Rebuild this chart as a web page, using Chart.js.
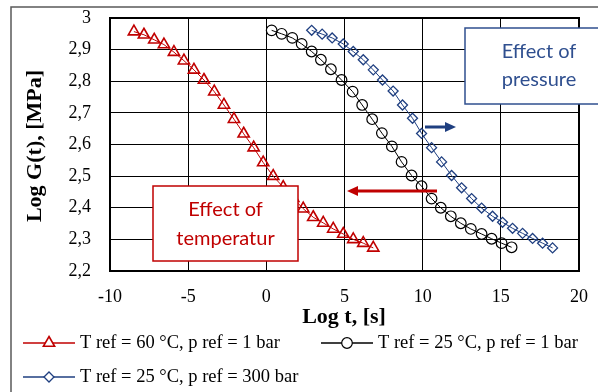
<!DOCTYPE html>
<html>
<head>
<meta charset="utf-8">
<script src="https://cdn.jsdelivr.net/npm/chart.js@4/dist/chart.umd.min.js"></script>
<style>
  html, body { margin: 0; padding: 0; background: #fff; }
  #wrap { width: 598px; height: 392px; position: relative; }
</style>
</head>
<body>
<div id="wrap"><canvas id="chart" width="598" height="392"></canvas></div>
<script>
// values
const xTicks = [-10, -5, 0, 5, 10, 15, 20];
const yTicks = [2.2, 2.3, 2.4, 2.5, 2.6, 2.7, 2.8, 2.9, 3];

const seriesNames = [
    "T ref = 60 °C, p ref = 1 bar",
    "T ref = 25 °C, p ref = 1 bar",
    "T ref = 25 °C, p ref = 300 bar"
];

const t60x = [-8.47, -7.83, -7.17, -6.55, -5.91, -5.27, -4.63, -3.99, -3.33, -2.71, -2.07, -1.45, -0.81,
    -0.20, 0.44, 1.08, 1.72, 2.36, 3.00, 3.64, 4.28, 4.92, 5.56, 6.20, 6.84];
const t60y = [2.957, 2.947, 2.931, 2.916, 2.892, 2.865, 2.836, 2.804, 2.767, 2.725, 2.680, 2.634, 2.590,
    2.543, 2.500, 2.465, 2.430, 2.397, 2.370, 2.352, 2.333, 2.317, 2.300, 2.288, 2.273];

const t25x = [0.34, 0.98, 1.66, 2.26, 2.90, 3.49, 4.13, 4.81, 5.52, 6.13, 6.77, 7.39, 8.03,
    8.65, 9.29, 9.93, 10.57, 11.16, 11.80, 12.44, 13.08, 13.77, 14.41, 15.05, 15.69];
const t25y = [2.961, 2.950, 2.937, 2.918, 2.894, 2.868, 2.838, 2.804, 2.767, 2.725, 2.680, 2.636, 2.594,
    2.545, 2.502, 2.468, 2.429, 2.400, 2.373, 2.351, 2.333, 2.317, 2.302, 2.288, 2.275];

const p300x = [2.90, 3.57, 4.21, 4.92, 5.56, 6.20, 6.84, 7.43, 8.11, 8.71, 9.35, 9.93, 10.57,
    11.21, 11.85, 12.49, 13.13, 13.77, 14.47, 15.11, 15.75, 16.39, 17.03, 17.67, 18.31];
const p300y = [2.961, 2.949, 2.937, 2.918, 2.894, 2.868, 2.836, 2.804, 2.769, 2.725, 2.683, 2.635, 2.590,
    2.545, 2.502, 2.463, 2.429, 2.399, 2.373, 2.354, 2.335, 2.319, 2.303, 2.288, 2.273];

const RED = '#C00000', BLACK = '#000000', BLUE = '#1F3F80';
const SERIF = '"Liberation Serif", "Times New Roman", serif';
const SANS = 'Lato, "Liberation Sans", sans-serif';

const toPoints = (xs, ys) => xs.map((x, i) => ({ x: x, y: ys[i] }));

const styles = [
    { color: RED, pointStyle: 'triangle', radius: 6.5, bw: 1.6 },
    { color: BLACK, pointStyle: 'circle', radius: 5.3, bw: 1.2 },
    { color: BLUE, pointStyle: 'rectRot', radius: 5, bw: 1.3 }
];

const datasets = [toPoints(t60x, t60y), toPoints(t25x, t25y), toPoints(p300x, p300y)].map((pts, i) => ({
    label: seriesNames[i],
    data: pts,
    showLine: true,
    borderColor: styles[i].color,
    borderWidth: 1,
    backgroundColor: 'transparent',
    pointStyle: styles[i].pointStyle,
    pointRadius: styles[i].radius,
    pointBorderWidth: styles[i].bw,
    pointBorderColor: styles[i].color,
    pointBackgroundColor: 'transparent'
}));

function drawArrow(ctx, x1, x2, y, color) {
    const dir = x2 > x1 ? 1 : -1;
    const head = 11;
    ctx.save();
    ctx.strokeStyle = color;
    ctx.fillStyle = color;
    ctx.lineWidth = 3;
    ctx.beginPath();
    ctx.moveTo(x1, y);
    ctx.lineTo(x2 - dir * head, y);
    ctx.stroke();
    ctx.beginPath();
    ctx.moveTo(x2, y);
    ctx.lineTo(x2 - dir * head, y - 5);
    ctx.lineTo(x2 - dir * head, y + 5);
    ctx.closePath();
    ctx.fill();
    ctx.restore();
}

function drawBox(ctx, x, y, w, h, border, lines, cx, ys) {
    ctx.save();
    ctx.fillStyle = '#fff';
    ctx.fillRect(x, y, w, h);
    ctx.strokeStyle = border;
    ctx.lineWidth = 1.5;
    ctx.strokeRect(x, y, w, h);
    ctx.fillStyle = border;
    ctx.font = '20px ' + SANS;
    ctx.textAlign = 'center';
    ctx.textBaseline = 'middle';
    lines.forEach((t, i) => ctx.fillText(t, cx, ys[i]));
    ctx.restore();
}

const decorations = {
    id: 'decorations',
    beforeDraw(chart) {
        const ctx = chart.ctx;
        ctx.save();
        // outer chart frame, cut by the picture edges
        ctx.strokeStyle = '#595959';
        ctx.lineWidth = 1.5;
        ctx.beginPath();
        ctx.moveTo(11, 392);
        ctx.lineTo(11, 7);
        ctx.lineTo(598, 7);
        ctx.stroke();
        ctx.restore();
    },
    afterDatasetsDraw(chart) {
        const ctx = chart.ctx;
        const a = chart.chartArea;
        ctx.save();
        ctx.strokeStyle = '#000';
        ctx.lineWidth = 2;
        ctx.strokeRect(a.left, a.top, a.right - a.left, a.bottom - a.top);
        ctx.restore();

        drawArrow(ctx, 425, 456, 127, BLUE);
        drawArrow(ctx, 437, 347, 191, RED);
        drawBox(ctx, 465, 28, 150, 76, '#2F4F8F', ['Effect of', 'pressure'], 539, [52, 80]);
        drawBox(ctx, 153, 186, 145, 75, RED, ['Effect of', 'temperatur'], 225.5, [210, 239]);

        // axis titles
        ctx.save();
        ctx.fillStyle = '#000';
        ctx.font = 'bold 22px ' + SERIF;
        ctx.textAlign = 'center';
        ctx.textBaseline = 'middle';
        ctx.fillText('Log t, [s]', 344, 317);
        ctx.translate(35, 146);
        ctx.rotate(-Math.PI / 2);
        ctx.fillText('Log G(t), [MPa]', 0, 0);
        ctx.restore();

        // legend
        const items = [
            { x: 23, y: 343 },
            { x: 321, y: 343 },
            { x: 23, y: 377 }
        ];
        items.forEach((it, i) => {
            const s = styles[i];
            ctx.save();
            ctx.strokeStyle = s.color;
            ctx.lineWidth = 1.3;
            ctx.beginPath();
            ctx.moveTo(it.x, it.y);
            ctx.lineTo(it.x + 52, it.y);
            ctx.stroke();
            ctx.fillStyle = '#fff';
            ctx.lineWidth = s.bw;
            Chart.helpers.drawPoint(ctx, {
                pointStyle: s.pointStyle, radius: s.radius, rotation: 0, borderWidth: s.bw
            }, it.x + 26, it.y);
            ctx.fillStyle = '#000';
            ctx.font = '18.5px ' + SERIF;
            ctx.textAlign = 'left';
            ctx.textBaseline = 'middle';
            ctx.fillText(seriesNames[i], it.x + 57, it.y);
            ctx.restore();
        });
    }
};

new Chart(document.getElementById('chart'), {
    type: 'scatter',
    data: { datasets: datasets },
    options: {
        responsive: false,
        animation: false,
        layout: { padding: { left: 0, right: 19, top: 18, bottom: 0 } },
        plugins: { legend: { display: false }, tooltip: { enabled: false } },
        scales: {
            x: {
                type: 'linear',
                min: xTicks[0],
                max: xTicks[xTicks.length - 1],
                afterBuildTicks: (s) => { s.ticks = xTicks.map(v => ({ value: v })); },
                afterFit: (s) => { s.height = 121; s.paddingLeft = 0; s.paddingRight = 0; },
                grid: { color: '#000', lineWidth: 1, drawTicks: false },
                border: { display: false },
                ticks: { color: '#000', padding: 15, font: { family: SERIF, size: 18 } }
            },
            y: {
                type: 'linear',
                min: yTicks[0],
                max: yTicks[yTicks.length - 1],
                afterBuildTicks: (s) => { s.ticks = yTicks.map(v => ({ value: v })); },
                afterFit: (s) => { s.width = 110; s.paddingTop = 0; s.paddingBottom = 0; },
                grid: { color: '#000', lineWidth: 1, drawTicks: false },
                border: { display: false },
                ticks: {
                    color: '#000', padding: 19, font: { family: SERIF, size: 18 },
                    callback: (v) => (v === 3 ? '3' : v.toFixed(1).replace('.', ','))
                }
            }
        }
    },
    plugins: [decorations]
});
</script>
</body>
</html>
